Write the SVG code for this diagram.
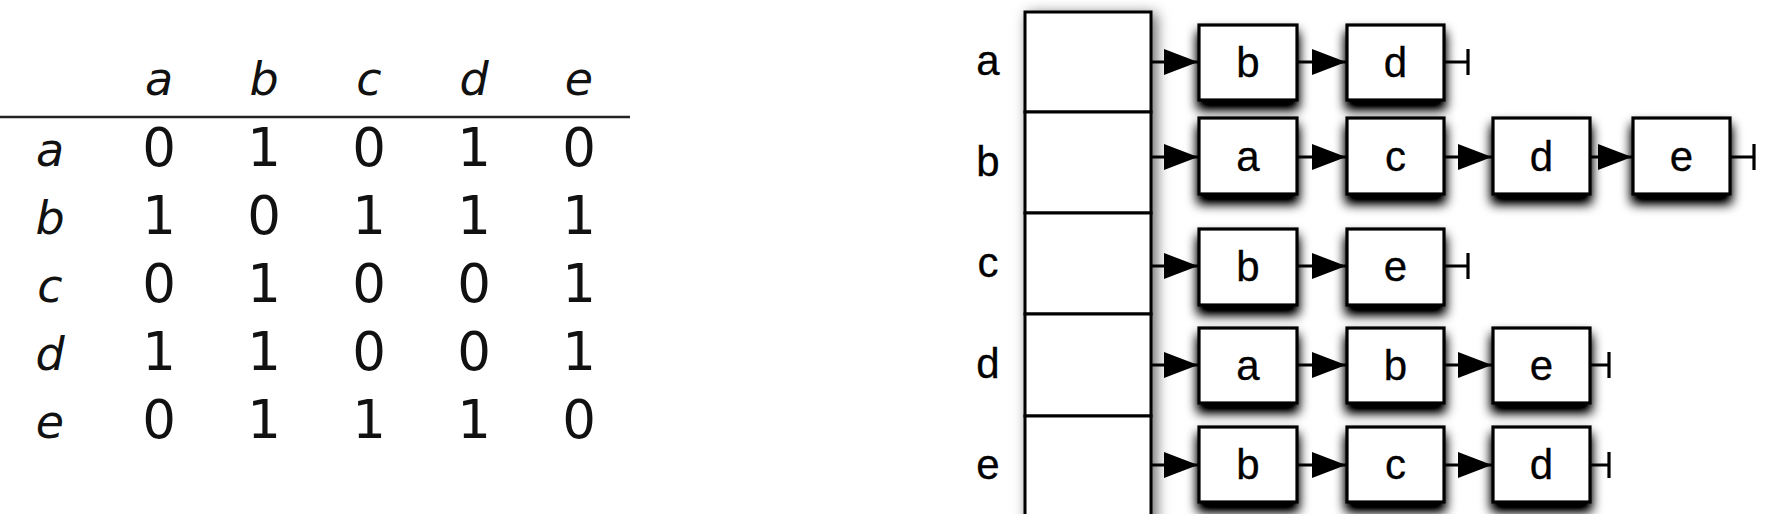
<svg xmlns="http://www.w3.org/2000/svg" width="1780" height="514" viewBox="0 0 1780 514">
<style>
.hd{font-family:"DejaVu Sans",sans-serif;font-style:italic;font-size:46px;fill:#111;text-anchor:middle}
.num{font-family:"DejaVu Sans",sans-serif;font-size:53px;fill:#111;text-anchor:middle}
.lbl{font-family:"Liberation Sans",Arial,sans-serif;font-size:42px;fill:#000;stroke:#000;stroke-width:0.3;text-anchor:middle}
.box{fill:#fff;stroke:#000;stroke-width:3.2}
.arr{fill:#fff;stroke:#000;stroke-width:3}
.con{stroke:#000;stroke-width:3;fill:none}
</style>
<defs>
<filter id="sh" x="-40%" y="-40%" width="180%" height="200%">
<feGaussianBlur in="SourceAlpha" stdDeviation="6" result="b"/>
<feOffset in="b" dx="0" dy="8" result="o"/>
<feComponentTransfer in="o" result="s"><feFuncA type="linear" slope="1.3"/></feComponentTransfer>
<feMerge><feMergeNode in="s"/><feMergeNode in="SourceGraphic"/></feMerge>
</filter>
<filter id="sha" x="-40%" y="-10%" width="180%" height="120%">
<feDropShadow dx="4" dy="3" stdDeviation="7" flood-color="#000" flood-opacity="0.6"/>
</filter>
<marker id="ah" markerUnits="userSpaceOnUse" markerWidth="36" markerHeight="28" refX="34" refY="13" orient="auto">
<path d="M0,0 L34,13 L0,26 z" fill="#000"/>
</marker>
<marker id="tee" markerUnits="userSpaceOnUse" markerWidth="6" markerHeight="30" refX="3" refY="15" orient="auto">
<path d="M3,2 L3,28" stroke="#000" stroke-width="3.2"/>
</marker>
</defs>
<rect width="1780" height="514" fill="#fff"/>

<g id="matrix">
<text class="hd" x="159" y="95">a</text>
<text class="hd" x="264" y="95">b</text>
<text class="hd" x="369" y="95">c</text>
<text class="hd" x="474" y="95">d</text>
<text class="hd" x="579" y="95">e</text>
<line x1="0" y1="117" x2="630" y2="117" stroke="#222" stroke-width="2.5"/>
<text class="hd" x="50" y="166">a</text>
<text class="hd" x="50" y="234">b</text>
<text class="hd" x="50" y="302">c</text>
<text class="hd" x="50" y="370">d</text>
<text class="hd" x="50" y="438">e</text>
<text class="num" y="166"><tspan x="159">0</tspan><tspan x="264">1</tspan><tspan x="369">0</tspan><tspan x="474">1</tspan><tspan x="579">0</tspan></text>
<text class="num" y="234"><tspan x="159">1</tspan><tspan x="264">0</tspan><tspan x="369">1</tspan><tspan x="474">1</tspan><tspan x="579">1</tspan></text>
<text class="num" y="302"><tspan x="159">0</tspan><tspan x="264">1</tspan><tspan x="369">0</tspan><tspan x="474">0</tspan><tspan x="579">1</tspan></text>
<text class="num" y="370"><tspan x="159">1</tspan><tspan x="264">1</tspan><tspan x="369">0</tspan><tspan x="474">0</tspan><tspan x="579">1</tspan></text>
<text class="num" y="438"><tspan x="159">0</tspan><tspan x="264">1</tspan><tspan x="369">1</tspan><tspan x="474">1</tspan><tspan x="579">0</tspan></text>
</g>

<g id="array">
<g filter="url(#sha)">
<rect class="arr" x="1025" y="12" width="126" height="100"/>
<rect class="arr" x="1025" y="112" width="126" height="101"/>
<rect class="arr" x="1025" y="213" width="126" height="101"/>
<rect class="arr" x="1025" y="314" width="126" height="102"/>
<rect class="arr" x="1025" y="416" width="126" height="120"/>
</g>
<text class="lbl" x="988" y="75">a</text>
<text class="lbl" x="988" y="176">b</text>
<text class="lbl" x="988" y="277">c</text>
<text class="lbl" x="988" y="378">d</text>
<text class="lbl" x="988" y="479">e</text>
</g>

<g id="connectors">
<line class="con" x1="1151" y1="62" x2="1198" y2="62" marker-end="url(#ah)"/>
<line class="con" x1="1297" y1="62" x2="1346" y2="62" marker-end="url(#ah)"/>
<line class="con" x1="1444" y1="62" x2="1468" y2="62" marker-end="url(#tee)"/>

<line class="con" x1="1151" y1="157" x2="1198" y2="157" marker-end="url(#ah)"/>
<line class="con" x1="1297" y1="157" x2="1346" y2="157" marker-end="url(#ah)"/>
<line class="con" x1="1444" y1="157" x2="1492" y2="157" marker-end="url(#ah)"/>
<line class="con" x1="1590" y1="157" x2="1632" y2="157" marker-end="url(#ah)"/>
<line class="con" x1="1730" y1="157" x2="1754" y2="157" marker-end="url(#tee)"/>

<line class="con" x1="1151" y1="266" x2="1198" y2="266" marker-end="url(#ah)"/>
<line class="con" x1="1297" y1="266" x2="1346" y2="266" marker-end="url(#ah)"/>
<line class="con" x1="1444" y1="266" x2="1468" y2="266" marker-end="url(#tee)"/>

<line class="con" x1="1151" y1="365" x2="1198" y2="365" marker-end="url(#ah)"/>
<line class="con" x1="1297" y1="365" x2="1346" y2="365" marker-end="url(#ah)"/>
<line class="con" x1="1444" y1="365" x2="1492" y2="365" marker-end="url(#ah)"/>
<line class="con" x1="1590" y1="365" x2="1609" y2="365" marker-end="url(#tee)"/>

<line class="con" x1="1151" y1="465" x2="1198" y2="465" marker-end="url(#ah)"/>
<line class="con" x1="1297" y1="465" x2="1346" y2="465" marker-end="url(#ah)"/>
<line class="con" x1="1444" y1="465" x2="1492" y2="465" marker-end="url(#ah)"/>
<line class="con" x1="1590" y1="465" x2="1609" y2="465" marker-end="url(#tee)"/>
</g>

<g id="a-b"><rect class="box" filter="url(#sh)" x="1199" y="25" width="98" height="75"/><text class="lbl" x="1248" y="77">b</text></g>
<g id="a-d"><rect class="box" filter="url(#sh)" x="1347" y="25" width="97" height="75"/><text class="lbl" x="1395.5" y="77">d</text></g>

<g id="b-a"><rect class="box" filter="url(#sh)" x="1199" y="118" width="98" height="76"/><text class="lbl" x="1248" y="171">a</text></g>
<g id="b-c"><rect class="box" filter="url(#sh)" x="1347" y="118" width="97" height="76"/><text class="lbl" x="1395.5" y="171">c</text></g>
<g id="b-d"><rect class="box" filter="url(#sh)" x="1493" y="118" width="97" height="76"/><text class="lbl" x="1541.5" y="171">d</text></g>
<g id="b-e"><rect class="box" filter="url(#sh)" x="1633" y="118" width="97" height="76"/><text class="lbl" x="1681.5" y="171">e</text></g>

<g id="c-b"><rect class="box" filter="url(#sh)" x="1199" y="229" width="98" height="76"/><text class="lbl" x="1248" y="281">b</text></g>
<g id="c-e"><rect class="box" filter="url(#sh)" x="1347" y="229" width="97" height="76"/><text class="lbl" x="1395.5" y="281">e</text></g>

<g id="d-a"><rect class="box" filter="url(#sh)" x="1199" y="328" width="98" height="75"/><text class="lbl" x="1248" y="380">a</text></g>
<g id="d-b"><rect class="box" filter="url(#sh)" x="1347" y="328" width="97" height="75"/><text class="lbl" x="1395.5" y="380">b</text></g>
<g id="d-e"><rect class="box" filter="url(#sh)" x="1493" y="328" width="97" height="75"/><text class="lbl" x="1541.5" y="380">e</text></g>

<g id="e-b"><rect class="box" filter="url(#sh)" x="1199" y="427" width="98" height="75"/><text class="lbl" x="1248" y="479">b</text></g>
<g id="e-c"><rect class="box" filter="url(#sh)" x="1347" y="427" width="97" height="75"/><text class="lbl" x="1395.5" y="479">c</text></g>
<g id="e-d"><rect class="box" filter="url(#sh)" x="1493" y="427" width="97" height="75"/><text class="lbl" x="1541.5" y="479">d</text></g>
</svg>
